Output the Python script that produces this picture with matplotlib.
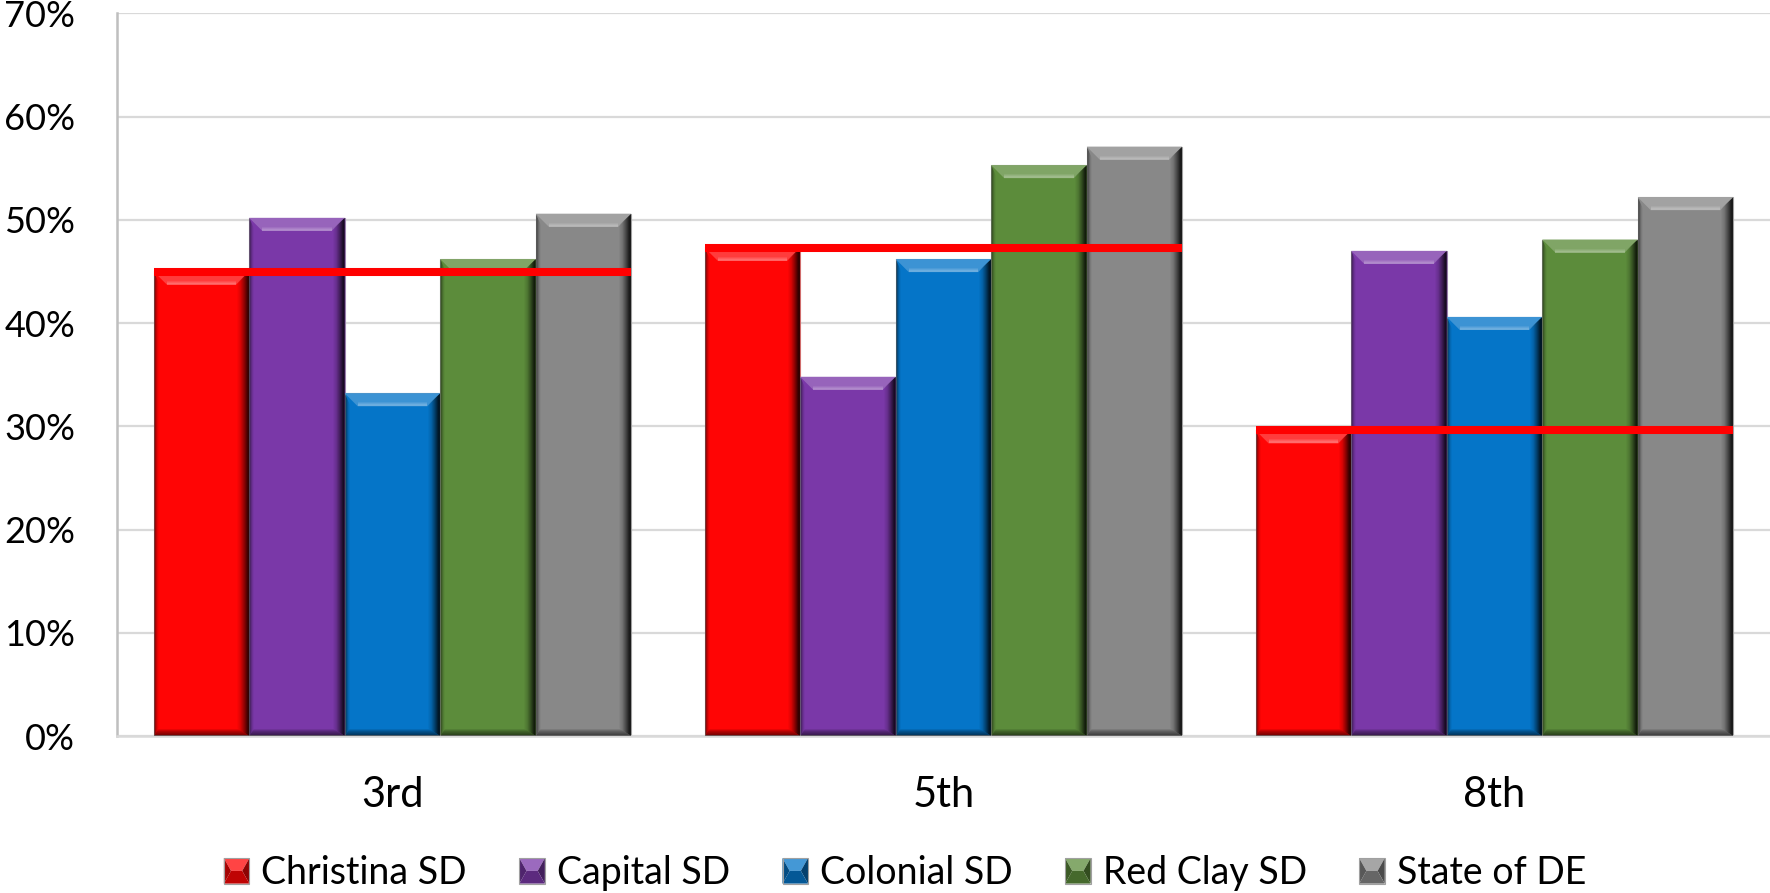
import numpy as np
import matplotlib
matplotlib.use("Agg")
import matplotlib.pyplot as plt
from matplotlib.patches import Polygon, Patch
from matplotlib.legend_handler import HandlerBase
from matplotlib.colors import to_rgb

# Share of students meeting the standard, by grade and district (%)
grades = ["3rd", "5th", "8th"]
christina = [45.0, 47.3, 29.6]
capital = [50.2, 34.8, 47.0]
colonial = [33.2, 46.2, 40.6]
red_clay = [46.2, 55.3, 48.1]
state_de = [50.6, 57.1, 52.2]

series_names = ["Christina SD", "Capital SD", "Colonial SD", "Red Clay SD", "State of DE"]
series_values = [christina, capital, colonial, red_clay, state_de]
series_colors = ["#FF0505", "#7A38A8", "#0575C8", "#5C8C3B", "#888888"]

y_ticks = [0, 10, 20, 30, 40, 50, 60, 70]

plt.rcParams["font.family"] = ["Lato", "DejaVu Sans"]

W_PX, H_PX = 1770, 893
fig = plt.figure(figsize=(W_PX / 100, H_PX / 100), dpi=100)
ax_left, ax_right, ax_top, ax_bottom = 117, 1770, 13.5, 736
ax = fig.add_axes([ax_left / W_PX, 1 - ax_bottom / H_PX,
                   (ax_right - ax_left) / W_PX, (ax_bottom - ax_top) / H_PX])

x = np.arange(len(grades))
n = len(series_names)
bar_w = 0.8667 / n
XLIM = (-0.5, len(grades) - 0.5)
YLIM = (0, 70)

# data units per pixel, used to size the bevel shading
sx = (XLIM[1] - XLIM[0]) / (ax_right - ax_left)
sy = (YLIM[1] - YLIM[0]) / (ax_bottom - ax_top)


def mix(color, other, t):
    c = np.array(to_rgb(color))
    o = np.array(to_rgb(other))
    return tuple(c * (1 - t) + o * t)


def gradient_fill(poly_pts, extent, alphas, rgb, horizontal=True):
    clip = Polygon(poly_pts, closed=True, transform=ax.transData)
    a = np.asarray(alphas, dtype=float)
    img = np.zeros((1, len(a), 4)) if horizontal else np.zeros((len(a), 1, 4))
    img[..., :3] = rgb
    if horizontal:
        img[0, :, 3] = a
    else:
        img[:, 0, 3] = a
    im = ax.imshow(img, extent=extent, aspect="auto", interpolation="bilinear",
                   origin="upper", zorder=3)
    im.set_clip_path(clip)


def bevel(patch, color):
    x0, y0 = patch.get_x(), patch.get_y()
    x1, y1 = x0 + patch.get_width(), y0 + patch.get_height()
    bx_top, by_top = 13 * sx, 13 * sy
    bx_r = 14 * sx
    bx_l = 6 * sx
    by_b = 9 * sy
    # top highlight
    top = Polygon([(x0, y1), (x1, y1), (x1 - bx_top, y1 - by_top), (x0 + bx_top, y1 - by_top)],
                  closed=True, facecolor=mix(color, "white", 0.22), edgecolor="none", zorder=3)
    ax.add_patch(top)
    gradient_fill([(x0 + bx_top, y1 - by_top * 0.55), (x1 - bx_top, y1 - by_top * 0.55),
                   (x1 - bx_top, y1 - by_top), (x0 + bx_top, y1 - by_top)],
                  [x0, x1, y1 - by_top, y1 - by_top * 0.55],
                  [0.0, 0.25], (1, 1, 1), horizontal=False)
    # right shadow
    gradient_fill([(x1, y1), (x1, y0), (x1 - bx_r, y0 + by_b), (x1 - bx_r, y1 - by_top)],
                  [x1 - bx_r, x1, y0, y1],
                  [0.0, 0.15, 0.45, 0.8], (0, 0, 0))
    # left shadow
    gradient_fill([(x0, y1), (x0 + bx_l, y1 - by_top), (x0 + bx_l, y0 + by_b), (x0, y0)],
                  [x0, x0 + bx_l, y0, y1],
                  [0.45, 0.15, 0.0], (0, 0, 0))
    # bottom shadow
    gradient_fill([(x0, y0), (x1, y0), (x1 - bx_r, y0 + by_b), (x0 + bx_l, y0 + by_b)],
                  [x0, x1, y0, y0 + by_b],
                  [0.0, 0.3, 0.5], (0, 0, 0), horizontal=False)


class PyramidHandler(HandlerBase):
    """Legend key drawn as a small bevelled square."""

    def create_artists(self, legend, orig_handle, xdescent, ydescent,
                       width, height, fontsize, trans):
        col = orig_handle.get_facecolor()[:3]
        side = min(width, height)
        x0 = -xdescent + (width - side) / 2
        y0 = -ydescent + (height - side) / 2
        x1, y1 = x0 + side, y0 + side
        cx, cy = (x0 + x1) / 2, (y0 + y1) / 2
        ix = side * 0.22
        faces = [
            ([(x0, y1), (x1, y1), (cx + ix, cy), (cx - ix, cy)], mix(col, "white", 0.25)),
            ([(x1, y1), (x1, y0), (cx + ix, cy)], mix(col, "black", 0.45)),
            ([(x0, y0), (x1, y0), (cx + ix, cy), (cx - ix, cy)], mix(col, "black", 0.25)),
            ([(x0, y1), (cx - ix, cy), (x0, y0)], mix(col, "black", 0.35)),
        ]
        arts = []
        for pts, fc in faces:
            p = Polygon(pts, closed=True, facecolor=fc, edgecolor="none", transform=trans)
            arts.append(p)
        frame = Polygon([(x0, y0), (x1, y0), (x1, y1), (x0, y1)], closed=True,
                        facecolor="none", edgecolor="#A0A0A0", linewidth=0.8, transform=trans)
        arts.append(frame)
        return arts


for i, (name, vals, col) in enumerate(zip(series_names, series_values, series_colors)):
    bars = ax.bar(x + (i - (n - 1) / 2) * bar_w, vals, width=bar_w, color=col,
                  edgecolor=mix(col, "#B0B0B0", 0.6), linewidth=0.8, zorder=2, label=name)
    for p in bars:
        bevel(p, col)

# Christina reference line across each grade group
ax.hlines(christina, x - n / 2 * bar_w, x + n / 2 * bar_w, color="#FF0000",
          linewidth=5.8, zorder=6)

ax.set_xlim(*XLIM)
ax.set_ylim(*YLIM)
ax.set_yticks(y_ticks)
ax.set_yticklabels([f"{v}%" for v in y_ticks])
ax.set_xticks(x)
ax.set_xticklabels(grades)
ax.tick_params(axis="y", length=0, pad=30, labelsize=26, labelcolor="black")
ax.tick_params(axis="x", length=0, pad=29, labelsize=30, labelcolor="black")

ax.yaxis.grid(True, color="#D9D9D9", linewidth=1.6, zorder=0)
ax.set_axisbelow(True)
for s in ["top", "right"]:
    ax.spines[s].set_visible(False)
ax.spines["left"].set_color("#BFBFBF")
ax.spines["left"].set_linewidth(1.8)
ax.spines["bottom"].set_color("#D9D9D9")
ax.spines["bottom"].set_linewidth(1.8)

handles = [Patch(facecolor=c, label=nm) for nm, c in zip(series_names, series_colors)]
fig.legend(handles=handles, loc="center", bbox_to_anchor=(905 / W_PX, 1 - 873 / H_PX),
           ncol=n, frameon=False, fontsize=27, handlelength=0.68, handleheight=0.68,
           handletextpad=0.32, columnspacing=1.4, borderaxespad=0,
           handler_map={Patch: PyramidHandler()})

fig.savefig("out.png", dpi=100)
